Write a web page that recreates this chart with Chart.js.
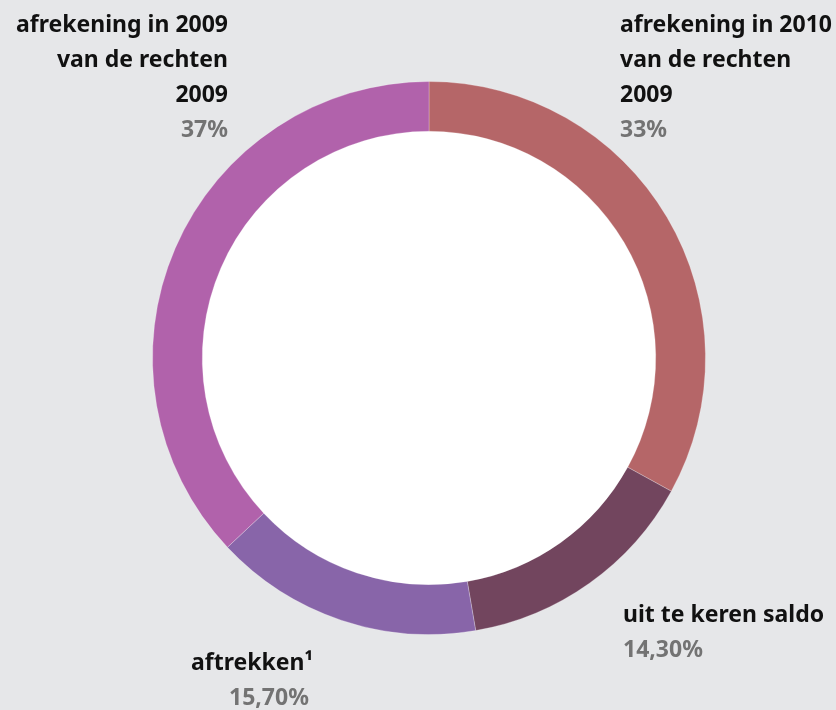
<!DOCTYPE html>
<html>
<head>
<meta charset="utf-8">
<script src="https://cdn.jsdelivr.net/npm/chart.js@4"></script>
<style>
  html, body { margin: 0; padding: 0; background: #e6e7e9; }
  #wrap { width: 836px; height: 710px; position: relative; }
</style>
</head>
<body>
<div id="wrap"><canvas id="ringChart"></canvas></div>
<script>
const categories = [
    ['afrekening in 2010', 'van de rechten', '2009'],
    ['uit te keren saldo'],
    ['aftrekken\u00B9'],
    ['afrekening in 2009', 'van de rechten', '2009']
];
const shares = [33, 14.3, 15.7, 37];
const shareLabels = ['33%', '14,30%', '15,70%', '37%'];
const sliceColors = ['#b56668', '#72455e', '#8865a9', '#b162ab'];

// where each label block sits: x, first line y, alignment, percent x offset
const labelSpots = [
    { x: 620, y: 25, align: 'left' },
    { x: 623, y: 615, align: 'left' },
    { x: 191, y: 663, align: 'left', pctX: 229 },
    { x: 228, y: 25, align: 'right' }
];

const FONT = '"Noto Sans", sans-serif';

const holePlugin = {
    id: 'hole',
    beforeDatasetsDraw(chart) {
        const arc = chart.getDatasetMeta(0).data[0];
        const ctx = chart.ctx;
        ctx.save();
        ctx.fillStyle = '#ffffff';
        ctx.beginPath();
        ctx.arc(arc.x, arc.y, arc.innerRadius + 1, 0, Math.PI * 2);
        ctx.fill();
        ctx.restore();
    }
};

const labelPlugin = {
    id: 'sliceLabels',
    afterDraw(chart) {
        const ctx = chart.ctx;
        ctx.save();
        ctx.textBaseline = 'middle';
        categories.forEach((lines, i) => {
            const spot = labelSpots[i];
            ctx.textAlign = spot.align;
            ctx.fillStyle = '#111111';
            ctx.font = 'bold 23px ' + FONT;
            let y = spot.y;
            lines.forEach(line => {
                ctx.fillText(line, spot.x, y);
                y += 35;
            });
            ctx.fillStyle = '#737373';
            ctx.fillText(shareLabels[i], spot.pctX || spot.x, y);
        });
        ctx.restore();
    }
};

new Chart(document.getElementById('ringChart'), {
    type: 'doughnut',
    data: {
        labels: categories.map(l => l.join(' ')),
        datasets: [{
            data: shares,
            backgroundColor: sliceColors,
            borderColor: 'rgba(255,255,255,0.25)',
            borderWidth: 1
        }]
    },
    options: {
        responsive: true,
        maintainAspectRatio: false,
        animation: false,
        cutout: '82%',
        layout: { padding: { left: 152, right: 130, top: 81, bottom: 75 } },
        plugins: {
            legend: { display: false },
            tooltip: { enabled: false }
        }
    },
    plugins: [holePlugin, labelPlugin]
});
</script>
</body>
</html>
